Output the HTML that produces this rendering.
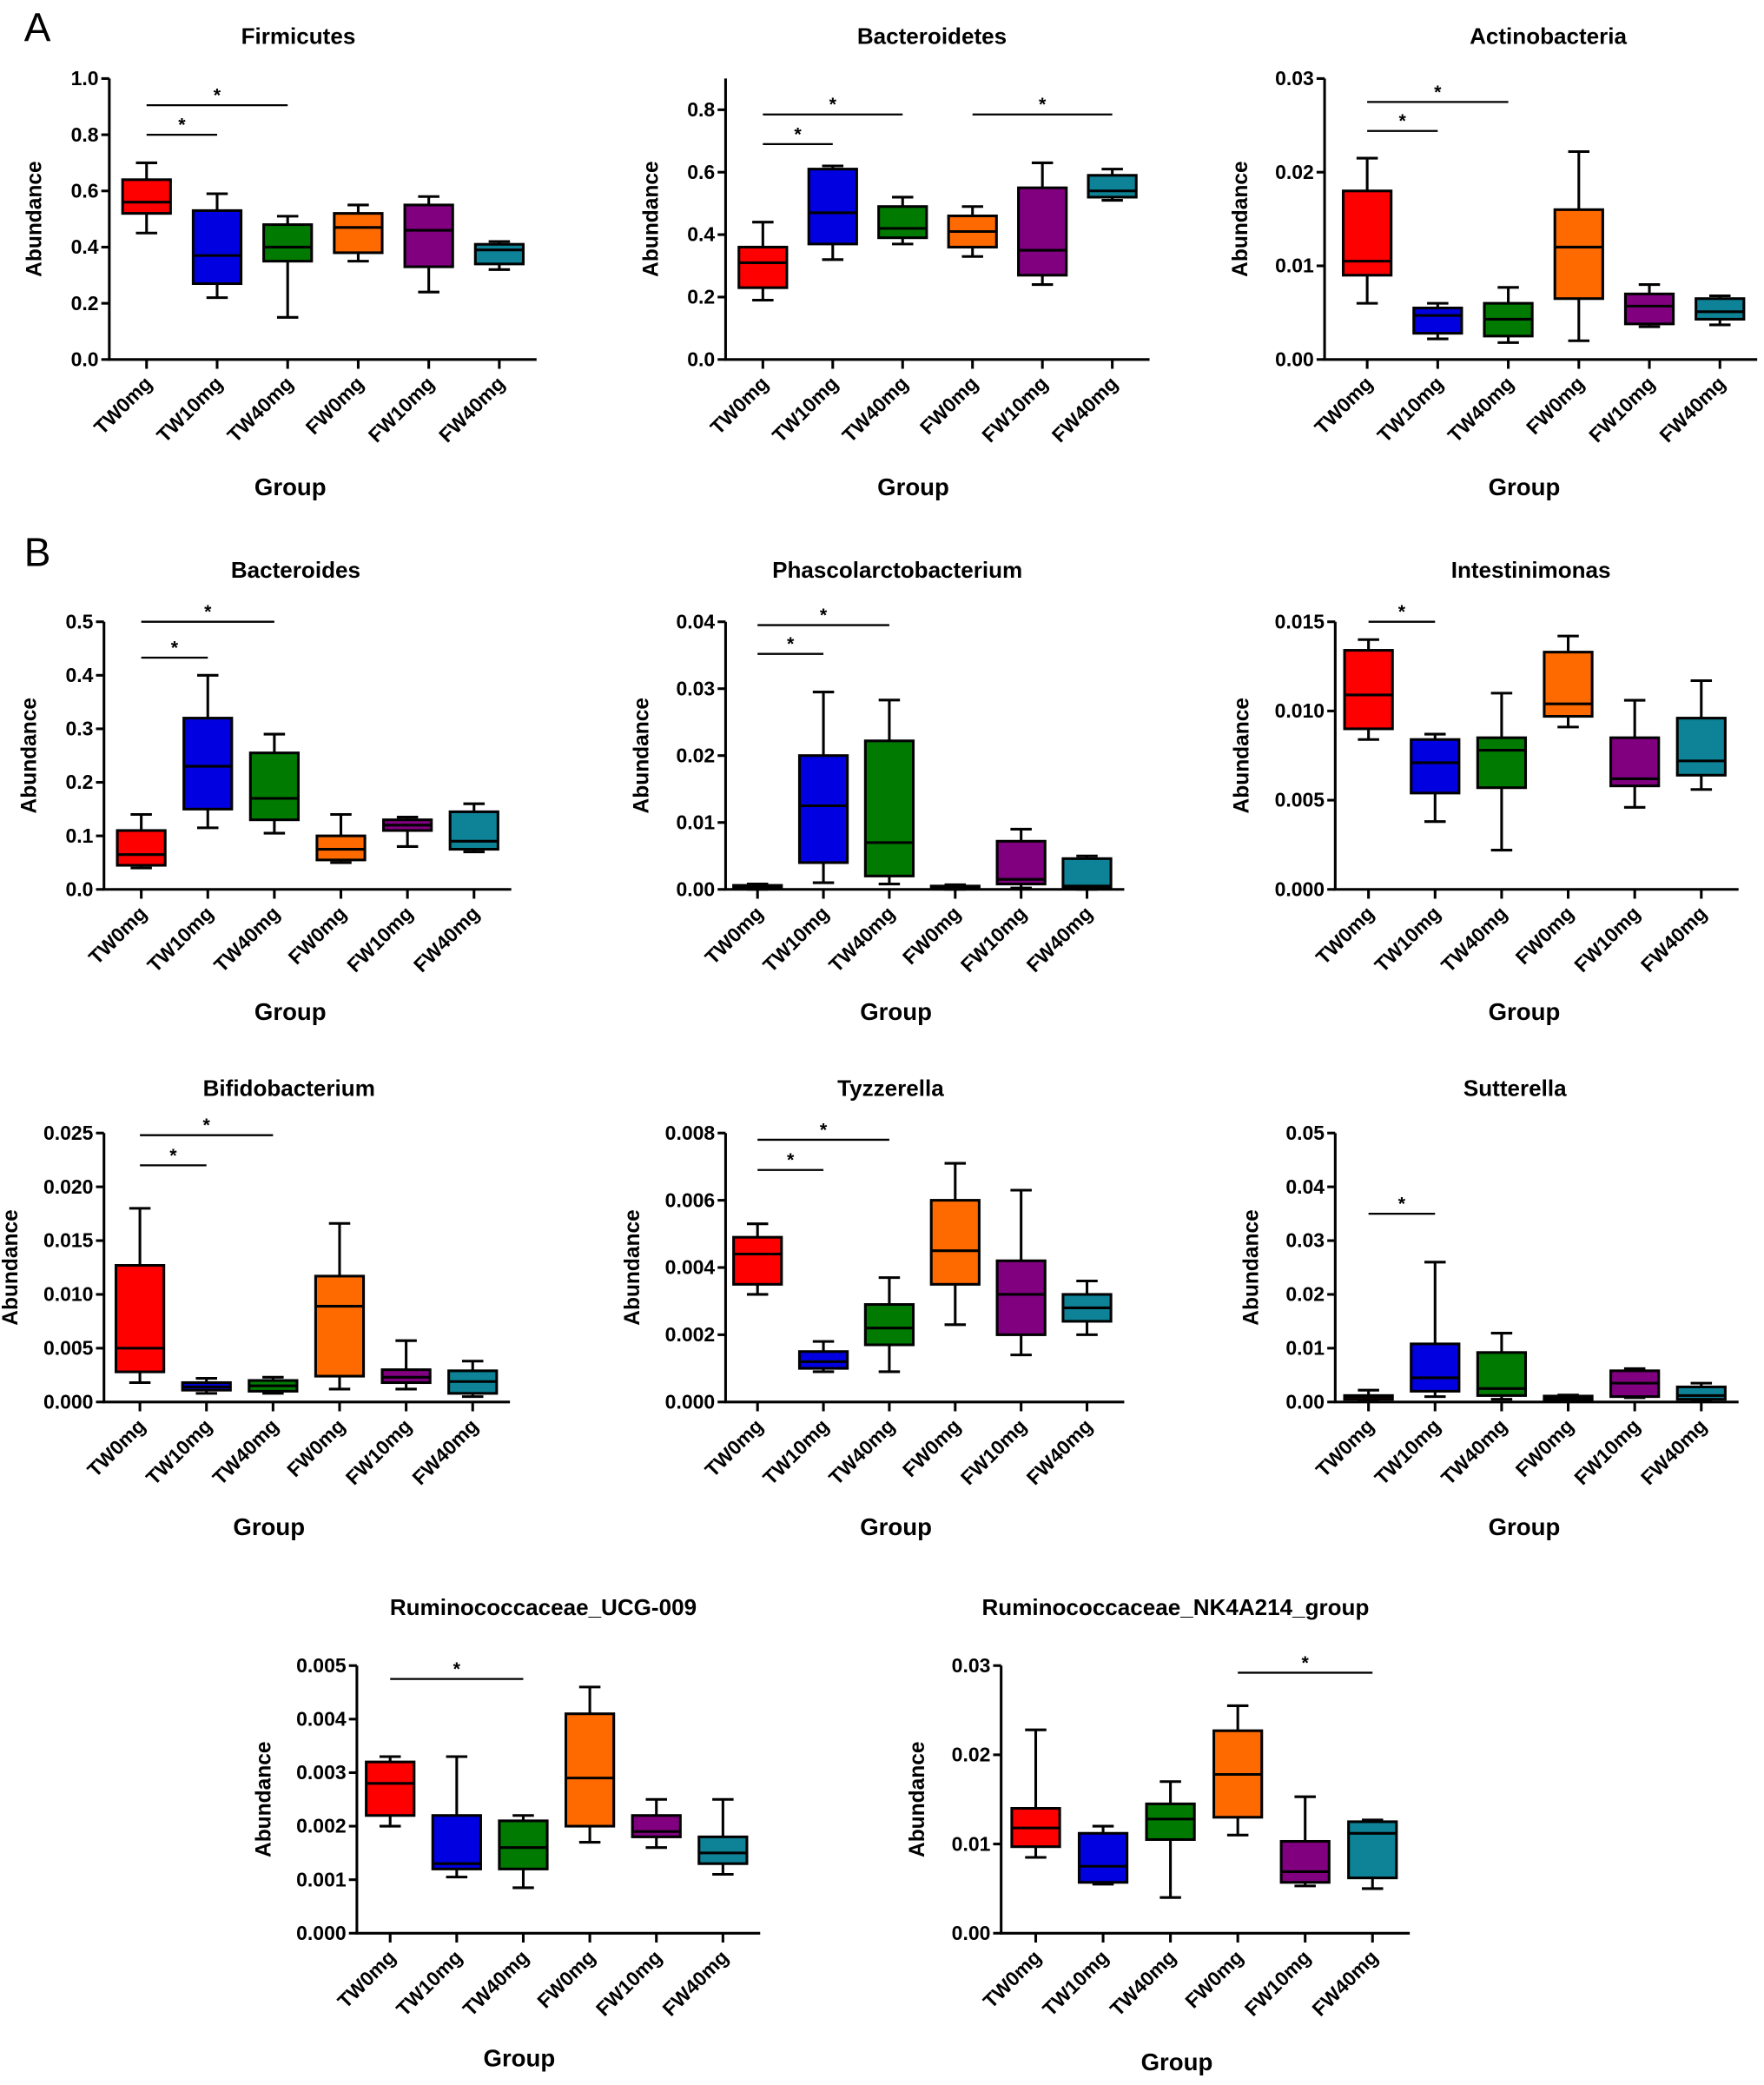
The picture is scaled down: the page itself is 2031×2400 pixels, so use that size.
<!DOCTYPE html>
<html><head><meta charset="utf-8">
<style>
html,body{margin:0;padding:0;background:#fff;}
svg{display:block;}
text{font-family:"Liberation Sans",Arial,sans-serif;}
</style></head>
<body>
<svg id="fig" width="2031" height="2400" viewBox="0 0 1325 1566" xmlns="http://www.w3.org/2000/svg">
<text x="18" y="31" font-size="30">A</text>
<text x="18" y="425" font-size="30">B</text>
</svg>
<script>
const categories = ["TW0mg","TW10mg","TW40mg","FW0mg","FW10mg","FW40mg"];
const colors = ["#ff0000","#0000e0","#007a00","#ff6a00","#800080","#0e8296"];
const titles = ["Firmicutes","Bacteroidetes","Actinobacteria","Bacteroides","Phascolarctobacterium","Intestinimonas","Bifidobacterium","Tyzzerella","Sutterella","Ruminococcaceae_UCG-009","Ruminococcaceae_NK4A214_group"];
// each box: [min, q1, median, q3, max]
const firmicutes = [[.45,.52,.56,.64,.70],[.22,.27,.37,.53,.59],[.15,.35,.40,.48,.51],[.35,.38,.47,.52,.55],[.24,.33,.46,.55,.58],[.32,.34,.39,.41,.42]];
const bacteroidetes = [[.19,.23,.31,.36,.44],[.32,.37,.47,.61,.62],[.37,.39,.42,.49,.52],[.33,.36,.41,.46,.49],[.24,.27,.35,.55,.63],[.51,.52,.54,.59,.61]];
const actinobacteria = [[.006,.009,.0105,.018,.0215],[.0022,.0028,.0047,.0055,.006],[.0018,.0025,.0043,.006,.0077],[.002,.0065,.012,.016,.0222],[.0035,.0038,.0057,.007,.008],[.0037,.0043,.0051,.0065,.0068]];
const bacteroides = [[.04,.045,.065,.11,.14],[.115,.15,.23,.32,.40],[.105,.13,.17,.255,.29],[.05,.055,.075,.10,.14],[.08,.11,.12,.13,.135],[.07,.075,.09,.145,.16]];
const phascolarcto = [[0,.0001,.0003,.0006,.0008],[.001,.004,.0125,.020,.0295],[.0008,.002,.007,.0222,.0283],[0,.0001,.0003,.0005,.0007],[.0002,.0008,.0015,.0072,.009],[0,.0002,.0005,.0046,.005]];
const intestinimonas = [[.0084,.009,.0109,.0134,.014],[.0038,.0054,.0071,.0084,.0087],[.0022,.0057,.0078,.0085,.011],[.0091,.0097,.0104,.0133,.0142],[.0046,.0058,.0062,.0085,.0106],[.0056,.0064,.0072,.0096,.0117]];
const bifido = [[.0018,.0028,.005,.0127,.018],[.0008,.0011,.0014,.0018,.0022],[.0008,.001,.0015,.002,.0023],[.0012,.0024,.0089,.0117,.0166],[.0012,.0018,.0023,.003,.0057],[.0005,.0008,.0019,.0029,.0038]];
const tyzzerella = [[.0032,.0035,.0044,.0049,.0053],[.0009,.001,.0012,.0015,.0018],[.0009,.0017,.0022,.0029,.0037],[.0023,.0035,.0045,.006,.0071],[.0014,.002,.0032,.0042,.0063],[.002,.0024,.0028,.0032,.0036]];
const sutterella = [[.0002,.0005,.001,.0012,.0022],[.001,.002,.0045,.0108,.026],[.0005,.0012,.0025,.0092,.0128],[.0002,.0004,.0008,.0011,.0013],[.0008,.001,.0035,.0058,.0062],[.0003,.0005,.0012,.0028,.0035]];
const ucg009 = [[.002,.0022,.0028,.0032,.0033],[.00105,.0012,.0013,.0022,.0033],[.00085,.0012,.0016,.0021,.0022],[.0017,.002,.0029,.0041,.0046],[.0016,.0018,.0019,.0022,.0025],[.0011,.0013,.0015,.0018,.0025]];
const nk4a214 = [[.0085,.0097,.0118,.014,.0228],[.0055,.0057,.0075,.0112,.012],[.004,.0105,.0128,.0145,.017],[.011,.013,.0178,.0227,.0255],[.0053,.0057,.0069,.0103,.0153],[.005,.0062,.0112,.0125,.0127]];
const allData = [firmicutes,bacteroidetes,actinobacteria,bacteroides,phascolarcto,intestinimonas,bifido,tyzzerella,sutterella,ucg009,nk4a214];
const yMax = [1.0,0.9,0.03,0.5,0.04,0.015,0.025,0.008,0.05,0.005,0.03];
const tickStep = [0.2,0.2,0.01,0.1,0.01,0.005,0.005,0.002,0.01,0.001,0.01];
const tickDecimals = [1,1,2,1,2,3,3,3,2,3,2];
// significance: [fromIndex, toIndex, value level]
const significance = [
 [[0,1,0.8],[0,2,0.905]],
 [[0,1,0.69],[0,2,0.785],[3,5,0.785]],
 [[0,1,0.0244],[0,2,0.0275]],
 [[0,1,0.433],[0,2,0.5]],
 [[0,1,0.0352],[0,2,0.0395]],
 [[0,1,0.015]],
 [[0,1,0.022],[0,2,0.0248]],
 [[0,1,0.0069],[0,2,0.0078]],
 [[0,1,0.035]],
 [[0,2,0.00475]],
 [[3,5,0.0292]]
];
const layout = [
 {ax:82,c0:110,st:53,top:59,zero:270,tx:224,ty:33,gx:218,gy:372},
 {ax:545,c0:573,st:52.5,top:59,zero:270,tx:700,ty:33,gx:686,gy:372},
 {ax:995,c0:1027,st:53,top:59,zero:270,tx:1163,ty:33,gx:1145,gy:372},
 {ax:78,c0:106,st:50,top:467,zero:668,tx:222,ty:434,gx:218,gy:766},
 {ax:545,c0:569,st:49.5,top:467,zero:668,tx:674,ty:434,gx:673,gy:766},
 {ax:1003,c0:1028,st:50,top:467,zero:668,tx:1150,ty:434,gx:1145,gy:766},
 {ax:78,c0:105,st:50,top:851,zero:1053,tx:217,ty:823,gx:202,gy:1153},
 {ax:545,c0:569,st:49.5,top:851,zero:1053,tx:669,ty:823,gx:673,gy:1153},
 {ax:1003,c0:1028,st:50,top:851,zero:1053,tx:1138,ty:823,gx:1145,gy:1153},
 {ax:268,c0:293,st:50,top:1251,zero:1452,tx:408,ty:1213,gx:390,gy:1552},
 {ax:752,c0:778,st:50.6,top:1251,zero:1452,tx:883,ty:1213,gx:884,gy:1555}
];
const svg = document.getElementById('fig');
const NS = 'http://www.w3.org/2000/svg';
function mk(tag, attrs, parent){const e=document.createElementNS(NS,tag);for(const k in attrs)e.setAttribute(k,attrs[k]);(parent||svg).appendChild(e);return e;}
allData.forEach((data,p)=>{
  const L = layout[p];
  const g = mk('g',{});
  
  
  const nT = Math.floor(yMax[p]/tickStep[p]+1e-9);
  const yScale = v => L.zero - v/yMax[p]*(L.zero-L.top);
  const xScale = i => L.c0 + i*L.st;
  const xEnd = xScale(5)+28;
  const t = mk('text',{x:L.tx,y:L.ty,'text-anchor':'middle','font-size':17,'font-weight':'bold'},g);
  t.textContent = titles[p];
  
  
  const ya = mk('line',{x1:L.ax,y1:L.top,x2:L.ax,y2:L.zero,stroke:'#000','stroke-width':2},g);
  
  
  const xa = mk('line',{x1:L.ax-1,y1:L.zero,x2:xEnd,y2:L.zero,stroke:'#000','stroke-width':2},g);
  
  
  let maxChars = 0;
  for(let k=0;k<=nT;k++){
    const v=k*tickStep[p], y=yScale(v);
    mk('line',{x1:L.ax-6,y1:y,x2:L.ax,y2:y,stroke:'#000','stroke-width':2},g);
    const tl = mk('text',{x:L.ax-8,y:y+5,'text-anchor':'end','font-size':15,'font-weight':'bold'},g);
    tl.textContent = v.toFixed(tickDecimals[p]);
    maxChars = Math.max(maxChars, tl.textContent.length);
    
    
  }
  const yOff = 30 + 7*maxChars;
  const yl = mk('text',{x:0,y:0,'text-anchor':'middle','font-size':16,'font-weight':'bold',transform:`translate(${L.ax-yOff},${(L.top+L.zero)/2}) rotate(-90)`},g);
  yl.textContent='Abundance';
  
  
  const gl = mk('text',{x:L.gx,y:L.gy,'text-anchor':'middle','font-size':18,'font-weight':'bold'},g);
  gl.textContent='Group';
  
  
  categories.forEach((c,i)=>{
    const x=xScale(i);
    mk('line',{x1:x,y1:L.zero,x2:x,y2:L.zero+7,stroke:'#000','stroke-width':2},g);
    const xl = mk('text',{x:0,y:0,'text-anchor':'end','font-size':15,'font-weight':'bold',transform:`translate(${x+5},${L.zero+19}) rotate(-45)`},g);
    xl.textContent=c;
    
    
  });
  data.forEach((b,i)=>{
    const x=xScale(i), w=36, bg=mk('g',{},g);
    
    
    mk('line',{x1:x,y1:yScale(b[0]),x2:x,y2:yScale(b[4]),stroke:'#000','stroke-width':2},bg);
    mk('line',{x1:x-8,y1:yScale(b[0]),x2:x+8,y2:yScale(b[0]),stroke:'#000','stroke-width':2},bg);
    mk('line',{x1:x-8,y1:yScale(b[4]),x2:x+8,y2:yScale(b[4]),stroke:'#000','stroke-width':2},bg);
    mk('rect',{x:x-w/2,y:yScale(b[3]),width:w,height:Math.max(0.5,yScale(b[1])-yScale(b[3])),fill:colors[i],stroke:'#000','stroke-width':2},bg);
    mk('line',{x1:x-w/2,y1:yScale(b[2]),x2:x+w/2,y2:yScale(b[2]),stroke:'#000','stroke-width':2},bg);
  });
  significance[p].forEach(s=>{
    const y=yScale(s[2]), x1=xScale(s[0]), x2=xScale(s[1]);
    const sg=mk('g',{},g);
    
    
    mk('line',{x1:x1,y1:y,x2:x2,y2:y,stroke:'#000','stroke-width':1.5},sg);
    const st=mk('text',{x:(x1+x2)/2,y:y-3,'text-anchor':'middle','font-size':14,'font-weight':'bold'},sg);
    st.textContent='*';
  });
});
</script>
</body></html>
